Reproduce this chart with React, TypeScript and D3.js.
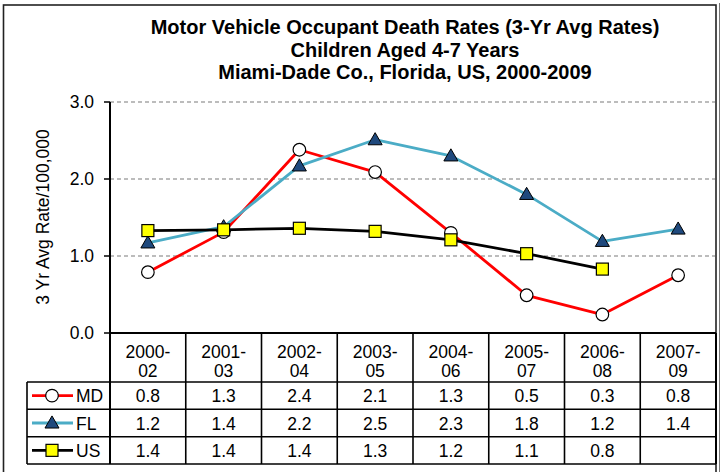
import React from "react";
import * as d3 from "d3";

const categories = ["2000-02", "2001-03", "2002-04", "2003-05", "2004-06", "2005-07", "2006-08", "2007-09"];
const mdValues: (number | null)[] = [0.79, 1.31, 2.38, 2.09, 1.3, 0.49, 0.24, 0.75];
const flValues: (number | null)[] = [1.17, 1.38, 2.17, 2.51, 2.3, 1.8, 1.19, 1.35];
const usValues: (number | null)[] = [1.33, 1.34, 1.36, 1.32, 1.21, 1.03, 0.83, null];
const mdLabels = ["0.8", "1.3", "2.4", "2.1", "1.3", "0.5", "0.3", "0.8"];
const flLabels = ["1.2", "1.4", "2.2", "2.5", "2.3", "1.8", "1.2", "1.4"];
const usLabels = ["1.4", "1.4", "1.4", "1.3", "1.2", "1.1", "0.8", ""];
const yTicks = [0, 1, 2, 3];
const titleLines = [
  "Motor Vehicle Occupant Death Rates (3-Yr Avg Rates)",
  "Children Aged 4-7 Years",
  "Miami-Dade Co., Florida, US, 2000-2009",
];

const FONT = "'Liberation Sans', Arial, sans-serif";

export default function App() {
  const W = 723, H = 472;
  const left = 110, right = 716, top = 102, bottom = 333;
  const x = d3.scaleBand<string>().domain(categories).range([left, right]).padding(0);
  const y = d3.scaleLinear().domain([0, 3]).range([bottom, top]);
  const cx = (c: string) => (x(c) as number) + x.bandwidth() / 2;

  const rowTops = [382, 409.3, 436.7, 464];
  const legendLeft = 27;
  const fs = 17.5;

  const line = d3
    .line<number | null>()
    .defined((d) => d !== null)
    .x((_, i) => cx(categories[i]))
    .y((d) => y(d as number));

  const tri = d3.symbol().type(d3.symbolTriangle).size(85)() as string;

  const series = [
    { name: "MD", values: mdValues, labels: mdLabels, color: "#FF0000", marker: "circle" },
    { name: "FL", values: flValues, labels: flLabels, color: "#4BACC6", marker: "triangle" },
    { name: "US", values: usValues, labels: usLabels, color: "#000000", marker: "square" },
  ];

  const marker = (type: string, px: number, py: number, key: string) => {
    if (type === "circle")
      return <circle key={key} cx={px} cy={py} r={6.3} fill="#fff" stroke="#000" strokeWidth={1.2} />;
    if (type === "triangle")
      return <path key={key} d={tri} transform={`translate(${px},${py + 1})`} fill="#1F497D" stroke="#000" strokeWidth={1} />;
    return <rect key={key} x={px - 6} y={py - 6} width={12} height={12} fill="#FFFF00" stroke="#000" strokeWidth={1.2} />;
  };

  return (
    <svg width={W} height={H} style={{ position: "absolute", left: 0, top: 0, background: "#fff" }} fontFamily={FONT}>
      <rect x={0} y={0} width={W} height={H} fill="#fff" />
      {/* frame */}
      <rect x={3.5} y={5} width={712.5} height={H + 10} fill="none" stroke="#222" strokeWidth={1.6} />
      <line x1={719.5} x2={719.5} y1={3} y2={H} stroke="#777" strokeWidth={1} />

      {/* title */}
      {titleLines.map((t, i) => (
        <text key={t} x={405} y={34 + i * 22.5} textAnchor="middle" fontSize={20} fontWeight="bold" fill="#000">
          {t}
        </text>
      ))}

      {/* gridlines */}
      {yTicks.filter((t) => t > 0).map((t) => (
        <line key={t} x1={left} x2={right - 1} y1={y(t)} y2={y(t)} stroke="#A6A6A6" strokeWidth={1.3} strokeDasharray="4,3" />
      ))}

      {/* y axis */}
      <line x1={left} x2={left} y1={top} y2={rowTops[3]} stroke="#000" strokeWidth={2} />
      {yTicks.map((t) => (
        <g key={t}>
          <line x1={left - 6} x2={left} y1={y(t)} y2={y(t)} stroke="#000" strokeWidth={1.5} />
          <text x={94} y={y(t) + 6.3} textAnchor="end" fontSize={fs} fill="#000">
            {t.toFixed(1)}
          </text>
        </g>
      ))}
      <text transform={`translate(49,217) rotate(-90)`} textAnchor="middle" fontSize={fs} fill="#000">
        3 Yr Avg Rate/100,000
      </text>

      {/* series lines */}
      {series.map((s) => (
        <path key={s.name} d={line(s.values) as string} fill="none" stroke={s.color} strokeWidth={2.8} strokeLinejoin="round" />
      ))}
      {series.map((s) =>
        s.values.map((v, i) => (v === null ? null : marker(s.marker, cx(categories[i]), y(v), `${s.name}${i}`)))
      )}

      {/* data table */}
      <line x1={left} x2={right} y1={bottom} y2={bottom} stroke="#000" strokeWidth={2.2} />
      {rowTops.map((ry) => (
        <line key={ry} x1={legendLeft} x2={right} y1={ry} y2={ry} stroke="#000" strokeWidth={1.6} />
      ))}
      <line x1={legendLeft} x2={legendLeft} y1={rowTops[0]} y2={rowTops[3]} stroke="#000" strokeWidth={1.6} />
      {categories.map((c, i) => (
        <line key={c} x1={(x(c) as number) + x.bandwidth()} x2={(x(c) as number) + x.bandwidth()} y1={bottom} y2={rowTops[3]} stroke="#000" strokeWidth={i === categories.length - 1 ? 2 : 1.6} />
      ))}
      {categories.map((c) => {
        const [a, b] = c.split("-");
        return (
          <text key={c} x={cx(c)} textAnchor="middle" fontSize={fs} fill="#000">
            <tspan x={cx(c)} y={358}>{a + "-"}</tspan>
            <tspan x={cx(c)} y={376.5}>{b}</tspan>
          </text>
        );
      })}
      {series.map((s, r) => {
        const yc = (rowTops[r] + rowTops[r + 1]) / 2;
        return (
          <g key={s.name}>
            <line x1={32} x2={73} y1={yc} y2={yc} stroke={s.color} strokeWidth={2.8} />
            {marker(s.marker, 52, yc, `leg${s.name}`)}
            <text x={76} y={yc + 6.5} fontSize={fs} fill="#000">{s.name}</text>
            {s.labels.map((l, i) => (
              <text key={i} x={cx(categories[i])} y={yc + 6.5} textAnchor="middle" fontSize={fs} fill="#000">
                {l}
              </text>
            ))}
          </g>
        );
      })}
    </svg>
  );
}
